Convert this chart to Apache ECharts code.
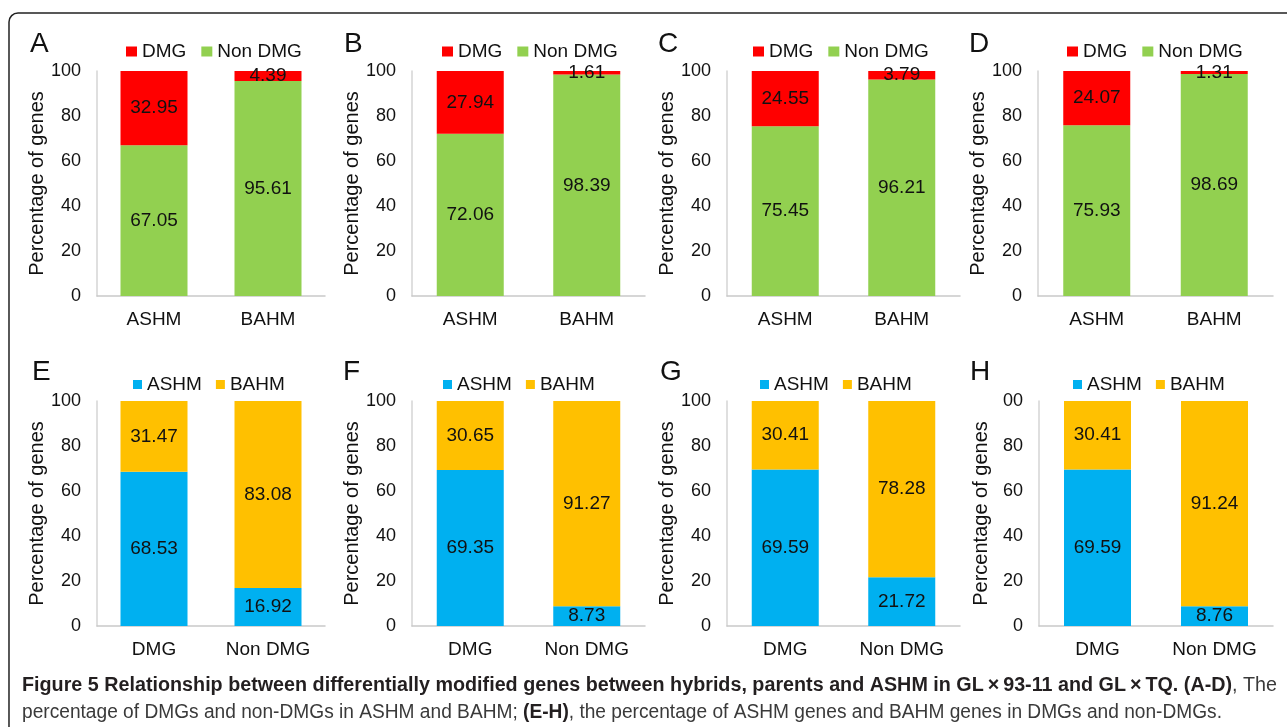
<!DOCTYPE html>
<html>
<head>
<meta charset="utf-8">
<script src="https://cdn.jsdelivr.net/npm/echarts@6/dist/echarts.min.js"></script>
<style>html,body{margin:0;padding:0;background:#fff;}#c{width:1287px;height:727px;}</style>
</head>
<body>
<div id="c"></div>
<script>
// ---- data ----
var panelLetters = ['A','B','C','D','E','F','G','H'];
var topCategories = ['ASHM','BAHM'];
var bottomCategories = ['DMG','Non DMG'];
// panels A-D: stacked DMG (top, red) over Non DMG (bottom, green)
var dmgA = [32.95, 4.39], nonA = [67.05, 95.61];
var dmgB = [27.94, 1.61], nonB = [72.06, 98.39];
var dmgC = [24.55, 3.79], nonC = [75.45, 96.21];
var dmgD = [24.07, 1.31], nonD = [75.93, 98.69];
// panels E-H: stacked BAHM (top, orange) over ASHM (bottom, blue)
var ashmE = [68.53, 16.92], bahmE = [31.47, 83.08];
var ashmF = [69.35, 8.73],  bahmF = [30.65, 91.27];
var ashmG = [69.59, 21.72], bahmG = [30.41, 78.28];
var ashmH = [69.59, 8.76],  bahmH = [30.41, 91.24];

var topData = [[nonA, dmgA],[nonB, dmgB],[nonC, dmgC],[nonD, dmgD]];
var bottomData = [[ashmE, bahmE],[ashmF, bahmF],[ashmG, bahmG],[ashmH, bahmH]];

var captionLine1Bold = 'Figure 5 Relationship between differentially modified genes between hybrids, parents and ASHM in GL\u2009\u00d7\u200993-11 and GL\u2009\u00d7\u2009TQ. (A-D)';
var captionLine1Rest = ', The';
var captionLine2a = 'percentage of DMGs and non-DMGs in ASHM and BAHM; ';
var captionLine2Bold = '(E-H)';
var captionLine2b = ', the percentage of ASHM genes and BAHM genes in DMGs and non-DMGs.';

// ---- layout ----
var FONT = "'Liberation Sans', Arial, sans-serif";
var gridBoxes = [
  {left:97, top:71, width:228, height:225},
  {left:412, top:71, width:233, height:225},
  {left:727, top:71, width:233, height:225},
  {left:1038, top:71, width:235, height:225},
  {left:97, top:401, width:228, height:225},
  {left:412, top:401, width:233, height:225},
  {left:727, top:401, width:233, height:225},
  {left:1039, top:401, width:234, height:225}
];
var legendLefts = [121, 437, 748, 1062, 128, 438, 755, 1068];
var letterPos = [[30,44],[344,44],[658,44],[969,44],[32,372],[343,372],[660,372],[970,372]];

var COLORS = {DMG:'#FF0000', Non:'#92D050', ASHM:'#00B0F0', BAHM:'#FFC000'};

var grids = [], xAxes = [], yAxes = [], series = [], legends = [], graphics = [];

for (var i = 0; i < 8; i++) {
  var isTop = i < 4;
  grids.push(Object.assign({containLabel:false}, gridBoxes[i]));
  xAxes.push({
    type:'category', gridIndex:i,
    data: isTop ? topCategories : bottomCategories,
    axisLine:{show:true, lineStyle:{color:'#c9c9c9', width:1.5}},
    axisTick:{show:false},
    axisLabel:{fontFamily:FONT, fontSize:19, color:'#111', margin:14}
  });
  (function(idx){
    yAxes.push({
      type:'value', gridIndex:idx, min:0, max:100, interval:20,
      name:'Percentage of genes', nameLocation:'middle', nameGap:48,
      nameTextStyle:{fontFamily:FONT, fontSize:20, color:'#111'},
      axisLine:{show:true, lineStyle:{color:'#d4d4d4', width:1.5}},
      axisTick:{show:false},
      splitLine:{show:false},
      axisLabel:{fontFamily:FONT, fontSize:18, color:'#111', margin:16,
        formatter:function(v){ return (idx === 7 && v === 100) ? '00' : String(v); }}
    });
  })(i);

  var names = isTop ? ['Non DMG','DMG'] : ['ASHM','BAHM'];
  var cols = isTop ? [COLORS.Non, COLORS.DMG] : [COLORS.ASHM, COLORS.BAHM];
  var dat = isTop ? topData[i] : bottomData[i-4];
  for (var s = 0; s < 2; s++) {
    series.push({
      type:'bar', name:names[s], xAxisIndex:i, yAxisIndex:i, stack:'st'+i,
      barWidth:67, data:dat[s],
      itemStyle:{color:cols[s]},
      label:{show:true, position:'inside', fontFamily:FONT, fontSize:19, color:'#111',
        formatter:function(p){ return p.value.toFixed(2); }},
      emphasis:{disabled:true}, animation:false
    });
  }

  legends.push({
    left:legendLefts[i], top: isTop ? 37 : 370,
    orient:'horizontal',
    data: isTop ? ['DMG','Non DMG'] : ['ASHM','BAHM'],
    icon:'rect',
    itemWidth: isTop ? 11 : 9, itemHeight: isTop ? 10 : 9,
    itemGap: isTop ? 15 : 14,
    textStyle:{fontFamily:FONT, fontSize:19, color:'#111'},
    selectedMode:false
  });

  graphics.push({
    type:'text', x:letterPos[i][0], y:letterPos[i][1],
    style:{text:panelLetters[i], fontFamily:FONT, fontSize:28, fill:'#111',
      textAlign:'left', textVerticalAlign:'middle'}
  });
}

// frame
graphics.push({
  type:'rect', shape:{x:9, y:13, width:1400, height:900, r:9},
  style:{fill:'none', stroke:'#222', lineWidth:1.5}, silent:true
});

// caption: fit each line to the width of the reference line
var CAP_FONT = "'Liberation Sans', Arial, sans-serif";
var CAP_SIZE = 20;
var mctx = document.createElement('canvas').getContext('2d');
function w(txt, bold){
  mctx.font = (bold ? 'bold ' : '') + CAP_SIZE + 'px ' + CAP_FONT;
  return mctx.measureText(txt).width;
}
var line1W = w(captionLine1Bold, true) + w(captionLine1Rest, false);
var line2W = w(captionLine2a, false) + w(captionLine2Bold, true) + w(captionLine2b, false);
var rich = {
  b:{fontFamily:CAP_FONT, fontWeight:'bold', fontSize:CAP_SIZE, fill:'#231f20'},
  n:{fontFamily:CAP_FONT, fontSize:CAP_SIZE, fill:'#3a3a3a'}
};
graphics.push({
  type:'text', x:22, y:685, scaleX:1255/line1W, originX:0,
  style:{text:'{b|' + captionLine1Bold + '}{n|' + captionLine1Rest + '}',
    textVerticalAlign:'middle', rich:rich}
});
graphics.push({
  type:'text', x:22, y:712, scaleX:1200/line2W, originX:0,
  style:{text:'{n|' + captionLine2a + '}{b|' + captionLine2Bold + '}{n|' + captionLine2b + '}',
    textVerticalAlign:'middle', rich:rich}
});

var chart = echarts.init(document.getElementById('c'), null, {renderer:'canvas'});
chart.setOption({
  backgroundColor:'#fff',
  animation:false,
  grid:grids, xAxis:xAxes, yAxis:yAxes, series:series, legend:legends,
  graphic:graphics
});
</script>
</body>
</html>
